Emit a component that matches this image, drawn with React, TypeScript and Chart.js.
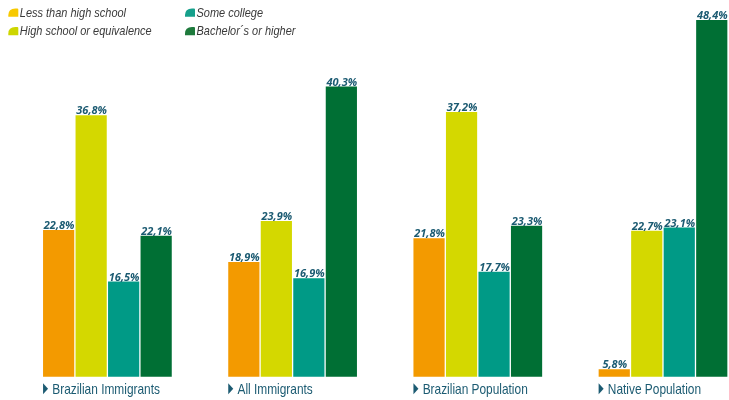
import React, { useEffect, useRef } from "react";
import { Chart, registerables } from "chart.js";

Chart.register(...registerables);

// ---- data ----
const groups = ["Brazilian Immigrants", "All Immigrants", "Brazilian Population", "Native Population"];
const seriesNames = ["Less than high school", "High school or equivalence", "Some college", "Bachelor´s or higher"];
const lessThanHighSchool = [22.8, 18.9, 21.8, 5.8];
const highSchoolOrEquivalence = [36.8, 23.9, 37.2, 22.7];
const someCollege = [16.5, 16.9, 17.7, 23.1];
const bachelorsOrHigher = [22.1, 40.3, 23.3, 48.4];

// ---- styles ----
const barColors = ["#F39A00", "#D4D800", "#009A86", "#006F34"];
const legendColors = ["#F7C900", "#CDD600", "#16A08B", "#1E7A3C"];
const labelColor = "#1C5B72";
const legendTextColor = "#3A3A3A";

function pickCondensed(ctx: CanvasRenderingContext2D, size: number, style: string) {
  ctx.font = `${style} ${size}px monospace`;
  const a = ctx.measureText("Brazilian Immigrants").width;
  ctx.font = `${style} ${size}px 'Liberation Sans Narrow', monospace`;
  const b = ctx.measureText("Brazilian Immigrants").width;
  if (Math.abs(a - b) > 0.5) return { font: `${style} ${size}px 'Liberation Sans Narrow'`, sx: 1 };
  return { font: `${style} ${size}px 'Liberation Sans', Arial, sans-serif`, sx: 0.82 };
}

function drawScaledText(ctx: CanvasRenderingContext2D, text: string, x: number, y: number, font: string, sx: number, color: string) {
  ctx.save();
  ctx.translate(x, y);
  ctx.scale(sx, 1);
  ctx.font = font;
  ctx.fillStyle = color;
  ctx.textAlign = "left";
  ctx.textBaseline = "alphabetic";
  ctx.fillText(text, 0, 0);
  ctx.restore();
}

const overlayPlugin = {
  id: "overlayPlugin",
  afterDatasetsDraw(chart: any) {
    const ctx: CanvasRenderingContext2D = chart.ctx;
    const area = chart.chartArea;

    // value labels
    chart.data.datasets.forEach((ds: any, di: number) => {
      const meta = chart.getDatasetMeta(di);
      meta.data.forEach((el: any, i: number) => {
        const v = ds.data[i] as number;
        ctx.save();
        ctx.font = "italic bold 11px 'Open Sans', sans-serif";
        ctx.fillStyle = labelColor;
        ctx.textAlign = "center";
        ctx.textBaseline = "alphabetic";
        ctx.fillText(v.toFixed(1).replace(".", ",") + "%", el.x + 0.5, el.y - 1);
        ctx.restore();
      });
    });

    // category labels with triangle markers
    const meta0 = chart.getDatasetMeta(0);
    const cat = pickCondensed(ctx, 14.5, "normal");
    groups.forEach((g, i) => {
      const el: any = meta0.data[i];
      const gs = el.x - el.width / 2;
      const top = area.bottom + 6.5;
      const base = area.bottom + 17.5;
      ctx.save();
      ctx.fillStyle = labelColor;
      ctx.beginPath();
      ctx.moveTo(gs, top);
      ctx.lineTo(gs + 5, (top + base) / 2);
      ctx.lineTo(gs, base);
      ctx.closePath();
      ctx.fill();
      ctx.restore();
      drawScaledText(ctx, g, gs + 9.2, base, cat.font, cat.sx, labelColor);
    });

    // legend (two columns, top-left)
    const lg = pickCondensed(ctx, 13, "italic");
    const sxL = lg.sx === 1 ? 1 : 0.845;
    const cols = [8.3, 185];
    const rows = [16.5, 35];
    seriesNames.forEach((name, i) => {
      const col = i < 2 ? 0 : 1;
      const row = i % 2;
      const mx = cols[col];
      const by = rows[row];
      const w = 10, h = 8.4, r = 7;
      const my = by - h + 0.3;
      ctx.save();
      ctx.fillStyle = legendColors[i];
      ctx.beginPath();
      ctx.moveTo(mx, my + h);
      ctx.lineTo(mx + w, my + h);
      ctx.lineTo(mx + w, my + 1);
      ctx.quadraticCurveTo(mx + w, my, mx + w - 1, my);
      ctx.lineTo(mx + r, my);
      ctx.quadraticCurveTo(mx, my, mx, my + h * 0.8);
      ctx.closePath();
      ctx.fill();
      ctx.restore();
      drawScaledText(ctx, name, mx + 11.5, by, lg.font, sxL, legendTextColor);
    });
  },
};

export default function App() {
  const canvasRef = useRef<HTMLCanvasElement | null>(null);

  useEffect(() => {
    const canvas = canvasRef.current;
    if (!canvas) return;
    const seriesData = [lessThanHighSchool, highSchoolOrEquivalence, someCollege, bachelorsOrHigher];
    const chart = new Chart(canvas, {
      type: "bar",
      data: {
        labels: groups,
        datasets: seriesNames.map((name, i) => ({
          label: name,
          data: seriesData[i],
          backgroundColor: barColors[i],
          borderWidth: 0,
          categoryPercentage: 0.702,
          barPercentage: 0.96,
          clip: 0,
        })),
      },
      options: {
        responsive: false,
        maintainAspectRatio: false,
        devicePixelRatio: 1,
        animation: false,
        layout: { padding: { left: 14.8, right: 4.4, top: 7, bottom: 23.3 } },
        plugins: {
          legend: { display: false },
          tooltip: { enabled: false },
        },
        scales: {
          x: { display: false, offset: true, grid: { display: false } },
          y: { display: false, min: 4.9, max: 50, grid: { display: false } },
        },
      },
      plugins: [overlayPlugin],
    } as any);
    return () => chart.destroy();
  }, []);

  return (
    <div
      style={{
        position: "absolute",
        left: 0,
        top: 0,
        width: 729,
        height: 400,
        overflow: "hidden",
        background: "#ffffff",
      }}
    >
      <canvas ref={canvasRef} width={760} height={400} style={{ display: "block", width: 760, height: 400 }} />
    </div>
  );
}
